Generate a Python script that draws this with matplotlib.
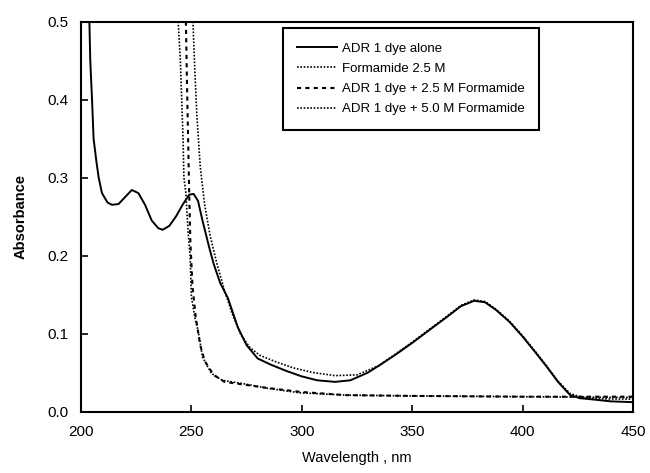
import matplotlib
matplotlib.use("Agg")
from matplotlib import pyplot as plt

plt.rcParams['font.family'] = ['Liberation Sans', 'DejaVu Sans']

# ADR 1 dye alone
wl_dye = [203.8, 204.2, 205, 205.7, 207, 208, 209.5, 212, 214, 217, 220, 223, 226,
          229, 232, 235, 237, 240, 243, 246, 249, 251, 253, 255, 258, 260, 263, 266.6,
          271, 275, 280, 286, 293, 300, 307, 315, 322, 330, 335, 342, 350, 358, 365.6,
          372, 378, 383, 388, 394, 400, 406, 411, 416, 421.5, 426, 430, 440, 450]
abs_dye = [0.5, 0.45, 0.40, 0.35, 0.32, 0.30, 0.28, 0.268, 0.265, 0.266, 0.275, 0.284, 0.28,
           0.265, 0.245, 0.235, 0.233, 0.238, 0.25, 0.265, 0.278, 0.279, 0.27, 0.245, 0.211, 0.19, 0.165, 0.145,
           0.108, 0.085, 0.068, 0.060, 0.052, 0.045, 0.040, 0.038, 0.040, 0.050, 0.059, 0.072, 0.088, 0.105, 0.121,
           0.135, 0.142, 0.14, 0.13, 0.115, 0.096, 0.075, 0.057, 0.038, 0.021, 0.017, 0.016, 0.013, 0.012]

# Formamide 2.5 M
wl_form = [244, 245, 245.6, 246.2, 246.6, 247.5, 248.5, 249.4, 250, 251.6, 253, 255, 259,
           264, 273, 284, 299, 320, 350, 400, 450]
abs_form = [0.5, 0.45, 0.40, 0.35, 0.30, 0.28, 0.23, 0.2, 0.147, 0.12, 0.104, 0.07, 0.049,
            0.04, 0.036, 0.030, 0.024, 0.021, 0.02, 0.019, 0.018]

# ADR 1 dye + 2.5 M Formamide
wl_25 = [247.5, 248, 248.5, 249, 249.5, 250.5, 252, 254, 256, 260, 265, 275, 285, 300,
         320, 350, 400, 450]
abs_25 = [0.5, 0.42, 0.35, 0.28, 0.22, 0.16, 0.12, 0.085, 0.065, 0.047, 0.038, 0.034, 0.03, 0.025,
          0.021, 0.02, 0.019, 0.019]

# ADR 1 dye + 5.0 M Formamide
wl_50 = [250.7, 251.5, 252.5, 254, 256, 258.5, 261.5, 265, 268.5, 272.5, 276.5, 281, 288, 296,
         305, 315, 325, 335, 342, 350, 358, 365.6, 372, 378, 383, 388, 394, 400, 406, 411, 416,
         421.5, 426, 430, 440, 450]
abs_50 = [0.5, 0.44, 0.378, 0.314, 0.265, 0.225, 0.19, 0.155, 0.125, 0.098, 0.082, 0.072, 0.064,
          0.056, 0.050, 0.046, 0.047, 0.059, 0.073, 0.089, 0.106, 0.122, 0.136, 0.143, 0.141,
          0.131, 0.116, 0.097, 0.076, 0.058, 0.039, 0.023, 0.019, 0.017, 0.016, 0.016]

fig = plt.figure(figsize=(6.5, 4.73), dpi=100)
ax = fig.add_axes([0.1246, 0.13, 0.8494, 0.8245])

ax.plot(wl_dye, abs_dye, "k-", lw=1.4, label="ADR 1 dye alone")
ax.plot(wl_form, abs_form, color="k", ls=(0, (1, 1)), lw=1.2, label="Formamide 2.5 M")
ax.plot(wl_25, abs_25, color="k", ls=(0, (2, 2)), lw=1.5, label="ADR 1 dye + 2.5 M Formamide")
ax.plot(wl_50, abs_50, color="k", ls=(0, (1, 1)), lw=1.2, label="ADR 1 dye + 5.0 M Formamide")

ax.set_xlim(200, 450)
ax.set_ylim(0, 0.5)
ax.set_xticks([200, 250, 300, 350, 400, 450])
ax.set_yticks([0.0, 0.1, 0.2, 0.3, 0.4, 0.5])
ax.set_yticklabels(["0.0", "0.1", "0.2", "0.3", "0.4", "0.5"])
ax.tick_params(direction="in", length=5, width=1.2, labelsize=11, top=False, right=False)
ax.tick_params(axis="x", pad=10)
ax.tick_params(axis="y", pad=9)
for s in ax.spines.values():
    s.set_linewidth(1.5)

ax.set_xlabel("Wavelength , nm", fontsize=10.5, labelpad=8)
ax.set_ylabel("Absorbance", fontsize=10.5, fontweight="bold", labelpad=14)

leg = ax.legend(loc="upper left", bbox_to_anchor=(276 / 650, 1 - 21.5 / 473),
                bbox_transform=fig.transFigure, fontsize=9.5, handlelength=3.0,
                handletextpad=0.4, labelspacing=0.6, borderpad=1.1,
                fancybox=False, framealpha=1, edgecolor="k")
leg.get_frame().set_linewidth(1.5)

plt.savefig("out.png", dpi=100)
